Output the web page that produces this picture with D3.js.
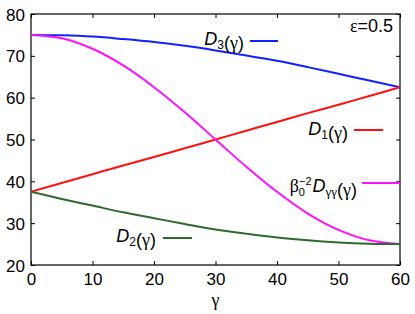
<!DOCTYPE html>
<html>
<head>
  <meta charset="utf-8">
  <title>D(gamma) curves</title>
  <style>
    body { margin: 0; background: #fff; }
    text { font-family: "Liberation Sans", Arial, Helvetica, sans-serif; fill: #000; }
    .tick-label { font-size: 17px; }
    .curve-label { font-size: 18px; }
    .greek { font-family: "Liberation Serif", "Times New Roman", serif; }
  </style>
</head>
<body>
  <div id="chart"></div>
  <script src="https://d3js.org/d3.v7.min.js"></script>
  <script>
    // values, every 5 degrees of gamma
    const gamma = [0, 5, 10, 15, 20, 25, 30, 35, 40, 45, 50, 55, 60];
    const valsD1  = [37.5, 39.6, 41.7, 43.8, 45.8, 47.9, 50.0, 52.1, 54.2, 56.3, 58.3, 60.4, 62.5];
    const valsD2  = [37.5, 35.8, 34.2, 32.6, 31.2, 29.8, 28.5, 27.5, 26.6, 25.9, 25.4, 25.1, 25.0];
    const valsD3  = [75.0, 74.9, 74.6, 74.0, 73.3, 72.4, 71.3, 70.1, 68.8, 67.3, 65.7, 64.1, 62.5];
    const valsDgg = [75.0, 74.2, 71.7, 67.7, 62.5, 56.5, 50.0, 43.5, 37.5, 32.3, 28.4, 25.9, 25.0];
    const xTicks = [0, 10, 20, 30, 40, 50, 60];
    const yTicks = [20, 30, 40, 50, 60, 70, 80];

    const width = 415, height = 314;
    const margin = {top: 14, right: 15, bottom: 49, left: 31};
    const innerW = width - margin.left - margin.right,
          innerH = height - margin.top - margin.bottom;

    const x = d3.scaleLinear().domain([0, 60]).range([0, innerW]);
    const y = d3.scaleLinear().domain([20, 80]).range([innerH, 0]);

    const svg = d3.select("#chart").append("svg")
      .attr("width", width)
      .attr("height", height);

    const g = svg.append("g")
      .attr("transform", `translate(${margin.left},${margin.top})`);

    g.append("clipPath").attr("id", "clip")
      .append("rect").attr("width", innerW).attr("height", innerH);

    // ticks pointing inward on all four sides
    const tickLen = 4;
    const xb = g.append("g").attr("transform", `translate(0,${innerH})`)
      .call(d3.axisBottom(x).tickValues(xTicks).tickSizeInner(-tickLen).tickSizeOuter(0).tickPadding(8));
    const xt = g.append("g")
      .call(d3.axisTop(x).tickValues(xTicks).tickSizeInner(-tickLen).tickSizeOuter(0).tickFormat(""));
    const yl = g.append("g")
      .call(d3.axisLeft(y).tickValues(yTicks).tickSizeInner(-tickLen).tickSizeOuter(0).tickPadding(6));
    const yr = g.append("g").attr("transform", `translate(${innerW},0)`)
      .call(d3.axisRight(y).tickValues(yTicks).tickSizeInner(-tickLen).tickSizeOuter(0).tickFormat(""));

    [xb, xt, yl, yr].forEach(a => {
      a.select(".domain").remove();
      a.selectAll("line").attr("stroke", "#000");
      a.selectAll("text").attr("class", "tick-label").attr("font-family", null).attr("font-size", null);
    });
    xb.selectAll("text").attr("dy", "0.71em");
    yl.selectAll("text").attr("dy", "0.36em");

    g.append("rect")
      .attr("width", innerW).attr("height", innerH)
      .attr("fill", "none").attr("stroke", "#000").attr("stroke-width", 1.2);

    const series = [
      {key: "D3",  vals: valsD3,  color: "#1020ff"},
      {key: "D1",  vals: valsD1,  color: "#ff1010"},
      {key: "Dgg", vals: valsDgg, color: "#ff10ff"},
      {key: "D2",  vals: valsD2,  color: "#2e6a2e"}
    ];

    const line = d3.line()
      .x((d, i) => x(gamma[i]))
      .y(d => y(d))
      .curve(d3.curveCatmullRom);

    const curves = g.append("g").attr("clip-path", "url(#clip)");
    series.forEach(s => {
      curves.append("path")
        .attr("d", line(s.vals))
        .attr("fill", "none")
        .attr("stroke", s.color)
        .attr("stroke-width", 2);
    });

    // curve labels with short key lines (absolute pixel positions)
    function keyLine(x1, x2, yy, color) {
      svg.append("line")
        .attr("x1", x1).attr("x2", x2).attr("y1", yy).attr("y2", yy)
        .attr("stroke", color).attr("stroke-width", 2);
    }

    function tailGamma(t) {
      t.append("tspan").text("(");
      t.append("tspan").attr("class", "greek").text("γ");
      t.append("tspan").text(")");
    }

    function simpleLabel(xEnd, yBase, sub) {
      const t = svg.append("text").attr("class", "curve-label")
        .attr("x", xEnd).attr("y", yBase).attr("text-anchor", "end");
      t.append("tspan").attr("font-style", "italic").text("D");
      t.append("tspan").attr("font-size", "12px").attr("dy", 4).text(sub);
      t.append("tspan").attr("dy", -4).text("");
      tailGamma(t);
    }

    simpleLabel(244, 45, "3");
    keyLine(250, 278, 41, series[0].color);

    simpleLabel(348, 135, "1");
    keyLine(354, 383, 130, series[1].color);

    simpleLabel(156, 242, "2");
    keyLine(163, 192, 238, series[3].color);

    const tb = svg.append("text").attr("class", "curve-label")
      .attr("x", 357).attr("y", 192).attr("text-anchor", "end");
    tb.append("tspan").attr("class", "greek").text("β");
    tb.append("tspan").attr("font-size", "11px").attr("dy", 4).text("0");
    tb.append("tspan").attr("font-size", "11px").attr("dx", -6).attr("dy", -11).text("−2");
    tb.append("tspan").attr("font-style", "italic").attr("dx", 1).attr("dy", 7).text("D");
    tb.append("tspan").attr("class", "greek").attr("font-size", "13px").attr("dy", 4).text("γγ");
    tb.append("tspan").attr("dy", -4).text("");
    tailGamma(tb);
    keyLine(362, 400, 183, series[2].color);

    const eps = svg.append("text").attr("class", "curve-label")
      .attr("x", 393).attr("y", 32).attr("text-anchor", "end");
    eps.append("tspan").attr("class", "greek").text("ε");
    eps.append("tspan").text("=0.5");

    svg.append("text").attr("class", "curve-label greek")
      .attr("x", margin.left + innerW / 2).attr("y", 306)
      .attr("font-size", "17px")
      .attr("text-anchor", "middle")
      .text("γ");
  </script>
</body>
</html>
